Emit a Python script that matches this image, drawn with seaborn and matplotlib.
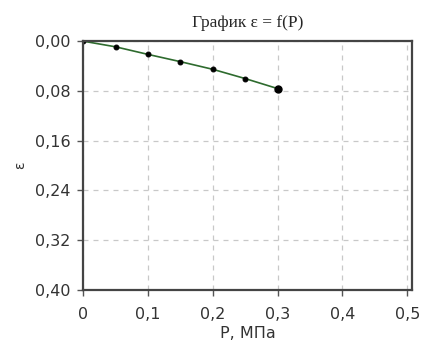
import matplotlib
matplotlib.use("Agg")
import matplotlib.pyplot as plt
import seaborn as sns
import pandas as pd
from matplotlib.ticker import FuncFormatter

P = [0.0, 0.05, 0.10, 0.15, 0.20, 0.25, 0.30]
eps = [0.0, 0.0091, 0.0213, 0.0330, 0.0453, 0.0602, 0.0763]
xticks = [0, 0.1, 0.2, 0.3, 0.4, 0.5]
yticks = [0.00, 0.08, 0.16, 0.24, 0.32, 0.40]

sns.set_style("white")
plt.rcParams['font.family'] = ['DejaVu Sans']
df = pd.DataFrame({"P": P, "eps": eps})

fig = plt.figure(figsize=(4.31, 3.43), dpi=100)
ax = fig.add_axes([0.193, 0.155, 0.764, 0.725])
sns.lineplot(data=df, x="P", y="eps", ax=ax, color="#2e6b2e", linewidth=1.2,
             marker="o", markersize=3.5, markerfacecolor="black", markeredgecolor="black")
ax.plot([P[-1]], [eps[-1]], "o", color="black", markersize=5)

ax.set_xlim(0, 0.508)
ax.set_ylim(0.40, 0.0)
ax.set_xticks(xticks)
ax.set_yticks(yticks)
ax.xaxis.set_major_formatter(FuncFormatter(lambda v, p: "0" if v == 0 else f"{v:.1f}".replace(".", ",")))
ax.yaxis.set_major_formatter(FuncFormatter(lambda v, p: f"{v:.2f}".replace(".", ",")))
ax.tick_params(axis="both", labelsize=11.5, length=4, width=1, color="#555555", direction="out", pad=5,
               bottom=True, left=True, labelcolor="#333333")
ax.tick_params(axis="x", pad=8)
ax.grid(True, linestyle=(0, (4, 4)), color="#c8c8c8", linewidth=0.9)
for s in ax.spines.values():
    s.set_color("#444444")
    s.set_linewidth(1.6)
ax.set_xlabel("P, МПа", fontsize=11.5, color="#333333", labelpad=3)
ax.set_ylabel("ε", fontsize=10, color="#333333", labelpad=6)
ax.set_title("График ε = f(P)", fontsize=12.5, family=["Liberation Serif", "DejaVu Serif"], pad=10)
fig.savefig("out.png", dpi=100)
